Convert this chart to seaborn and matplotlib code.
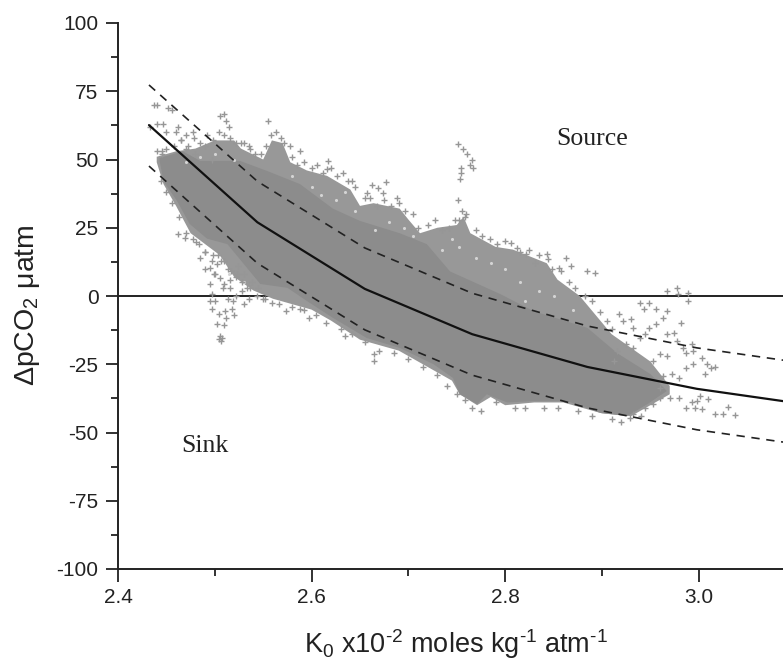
import matplotlib.pyplot as plt
import seaborn as sns

# fitted curves
fit_x = [2.432, 2.544, 2.655, 2.766, 2.885, 2.998, 3.087]
fit_mean = [62.6, 27.0, 2.6, -14.0, -26.0, -34.0, -38.5]
fit_upper = [77.3, 42.0, 17.6, 1.0, -11.0, -19.0, -23.5]
fit_lower = [47.6, 12.0, -12.4, -29.0, -41.0, -49.0, -53.5]

# dense part of the cloud, upper and lower edge
core_top_x = [2.443, 2.467, 2.485, 2.526, 2.554, 2.588, 2.622, 2.65, 2.691, 2.719, 2.743, 2.795, 2.829, 2.885, 2.916, 2.95, 2.967]
core_top_y = [50.6, 53, 49.5, 49.5, 45.8, 41, 32, 27.5, 23, 19, 9, 0.7, -5.5, -11.7, -21, -28.6, -34.8]
core_low_x = [2.443, 2.447, 2.461, 2.474, 2.492, 2.513, 2.547, 2.575, 2.595, 2.622, 2.657, 2.691, 2.726, 2.746, 2.753, 2.771, 2.781, 2.802, 2.829, 2.864, 2.898, 2.926, 2.947, 2.967]
core_low_y = [49.5, 42, 34.8, 26.4, 21, 19, 4.4, 3, -1.8, -8, -15.4, -19, -25, -30, -36, -39.6, -36, -39, -38.5, -38.5, -42.8, -44, -39.6, -34.8]

# loose part of the cloud around it
hull_top_x = [2.44, 2.46, 2.48, 2.50, 2.52, 2.527, 2.55, 2.559, 2.57, 2.578, 2.595, 2.616, 2.64, 2.65, 2.664, 2.691, 2.70, 2.712, 2.73, 2.75, 2.757, 2.764, 2.79, 2.808, 2.843, 2.854, 2.877, 2.91, 2.95, 2.97]
hull_top_y = [51, 53, 54, 57, 57, 54, 50, 57, 56, 49, 46, 44, 39, 33, 34, 32, 28, 23, 25, 26, 29, 23, 18, 17, 12, 6, 0, -14, -24, -33]
hull_low_x = [2.44, 2.447, 2.46, 2.475, 2.49, 2.505, 2.52, 2.54, 2.56, 2.6, 2.62, 2.65, 2.69, 2.72, 2.745, 2.753, 2.771, 2.785, 2.80, 2.83, 2.86, 2.90, 2.93, 2.95, 2.97]
hull_low_y = [49, 41, 33, 23, 19, 15, 7, 2, -1, -5, -9, -16, -20, -26, -31, -36, -40, -37, -40, -39, -39, -43, -44, -40, -36]

# single points outside the cloud
left_x = [2.437, 2.44, 2.452, 2.456, 2.447, 2.44, 2.433, 2.45, 2.46, 2.465, 2.47, 2.462, 2.44, 2.445, 2.477, 2.49, 2.497, 2.47, 2.48, 2.505, 2.515, 2.527, 2.535]
left_y = [70, 70, 69, 68, 63, 63, 62, 60, 60, 57, 59, 62, 53, 53, 60, 55, 50, 54, 52, 66, 62, 56, 55]
above_x = [2.509, 2.512, 2.555, 2.588, 2.578, 2.617, 2.616, 2.642, 2.662, 2.677, 2.669, 2.657, 2.674, 2.688, 2.884, 2.893, 2.863, 2.868, 2.856, 2.843, 2.844, 2.831, 2.822, 2.806, 2.812]
above_y = [66.6, 64.1, 64.1, 53.1, 55, 49.5, 46.4, 42.1, 40.7, 41.9, 39.7, 37.9, 37.9, 36, 9.2, 8.5, 14, 11, 10.4, 15.3, 13.4, 12.2, 15.3, 19.5, 17.7]
spike_x = [2.751, 2.756, 2.761, 2.766, 2.767, 2.754, 2.754, 2.753, 2.751, 2.755, 2.758, 2.752, 2.764]
spike_y = [55.7, 54, 52, 50, 47, 47, 45, 43, 35, 31, 29, 28, 48]
blob_x = [2.495, 2.502, 2.499, 2.505, 2.495, 2.509, 2.516, 2.497, 2.5, 2.495, 2.497, 2.504, 2.511, 2.518, 2.519, 2.514, 2.502, 2.51, 2.505, 2.504, 2.507, 2.506, 2.485, 2.481, 2.469, 2.462, 2.523, 2.533, 2.55, 2.559, 2.574, 2.588, 2.597, 2.664, 2.664, 2.635]
blob_y = [10.4, 11.6, 7.9, 6.7, 4.3, 4.3, 3.1, 0.6, -1.8, -1.8, -4.9, -6.7, -5.5, -4.9, -1.8, -1.2, -10.4, -10.6, -14.6, -15.9, -15.3, -16.5, 14.1, 19.6, 21.4, 22.6, 7.9, 3.1, -1.2, -2.4, -5.5, -4.9, -7.9, -21.3, -23.8, -14.6]
tail_x = [2.967, 2.977, 2.979, 2.989, 2.989, 2.939, 2.949, 2.943, 2.956, 2.967, 2.963, 2.918, 2.922, 2.93, 2.932, 2.982, 2.956, 2.949, 2.944, 2.939, 2.974, 2.967, 2.977, 2.984, 2.993, 2.994, 2.987, 3.003, 3.008, 3.013, 3.017, 3.006, 2.994, 2.987, 2.98, 2.972, 2.963, 2.967, 2.96, 2.953, 2.932, 2.925, 2.915, 2.912]
tail_y = [1.8, 3, 0.6, 1.2, -1.8, -2.4, -2.4, -4.9, -4.9, -5.5, -7.9, -6.7, -9.2, -8.5, -11.6, -9.8, -10.4, -11.6, -14, -15.3, -13.4, -14, -16.5, -18.9, -17.7, -20.1, -20.8, -22.6, -25, -26.3, -26, -28.7, -25, -26.3, -29.9, -28.7, -29.3, -22, -21.4, -23.8, -18.9, -17.7, -20.1, -23.8]
foot_x = [2.98, 2.993, 2.998, 2.987, 2.996, 3.003, 3.01, 3.001, 3.017, 3.025, 3.037, 3.03, 2.97, 2.96, 2.953, 2.944, 2.932, 2.929, 2.96]
foot_y = [-37.2, -39, -38.5, -40.9, -40.9, -41.5, -37.9, -36.6, -43.3, -43.3, -43.6, -40.5, -37.2, -37.2, -39.7, -40.9, -43.3, -44.6, -33.6]

# points along the rough edges of the cloud
fringe_top_x = [2.445, 2.45, 2.458, 2.465, 2.472, 2.478, 2.485, 2.492, 2.498, 2.504, 2.51, 2.516, 2.522, 2.53, 2.536, 2.542, 2.548, 2.553, 2.558, 2.563, 2.568, 2.572, 2.58, 2.585, 2.592, 2.6, 2.606, 2.612, 2.62, 2.626, 2.632, 2.638, 2.645, 2.655, 2.66, 2.668, 2.675, 2.682, 2.69, 2.697, 2.705, 2.71, 2.72, 2.727, 2.735, 2.742, 2.748, 2.76, 2.77, 2.776, 2.784, 2.792, 2.8, 2.815, 2.825, 2.835, 2.848, 2.858, 2.866, 2.872, 2.882, 2.89, 2.898, 2.905, 2.91]
fringe_top_y = [52, 54, 55, 57, 55, 58, 56, 59, 57, 60, 59, 58, 56, 56, 54, 52, 52, 55, 59, 60, 58, 56, 51, 48, 49, 47, 48, 45, 47, 44, 45, 42, 40, 36, 36, 33, 35, 33, 34, 31, 30, 25, 26, 28, 24, 25, 28, 30, 24, 22, 21, 19, 20, 16, 17, 15, 10, 9, 5, 3, 0, -2, -6, -9, -12]
fringe_low_x = [2.444, 2.45, 2.456, 2.463, 2.47, 2.477, 2.484, 2.49, 2.498, 2.506, 2.514, 2.522, 2.528, 2.536, 2.544, 2.552, 2.566, 2.58, 2.592, 2.605, 2.615, 2.63, 2.642, 2.655, 2.67, 2.685, 2.7, 2.715, 2.73, 2.74, 2.75, 2.758, 2.766, 2.775, 2.79, 2.81, 2.82, 2.84, 2.855, 2.875, 2.89, 2.91, 2.92, 2.94]
fringe_low_y = [42, 38, 34, 29, 23, 21, 19, 16, 15, 13, 10, 7, 5, 3, 0, -1, -3, -4, -5, -7, -10, -12, -14, -17, -20, -21, -23, -26, -29, -33, -36, -38, -41, -42, -39, -41, -41, -41, -41, -42, -44, -45, -46, -44]
inner_low_x = [2.49, 2.497, 2.503, 2.51, 2.517, 2.524, 2.53, 2.538, 2.545, 2.49, 2.5, 2.508, 2.516, 2.522, 2.528, 2.535, 2.512, 2.52, 2.53]
inner_low_y = [10, 13, 15, 13, 9, 11, 8, 5, 3, 16, 8, 3, 6, 0, 2, -1, -8, -7, -3]

# white specks inside the loose part
gap_x = [2.47, 2.485, 2.5, 2.52, 2.58, 2.6, 2.61, 2.625, 2.635, 2.645, 2.665, 2.68, 2.695, 2.705, 2.735, 2.745, 2.752, 2.77, 2.785, 2.8, 2.815, 2.82, 2.835, 2.85, 2.87, 2.515, 2.53]
gap_y = [49, 51, 52, 50, 44, 40, 37, 35, 38, 31, 24, 27, 25, 22, 17, 21, 18, 14, 12, 10, 5, -2, 2, 0, -5, 8, 5]

x_ticks = [2.4, 2.6, 2.8, 3.0]
x_tick_labels = ["2.4", "2.6", "2.8", "3.0"]
y_ticks = [-100, -75, -50, -25, 0, 25, 50, 75, 100]

sns.set_style("ticks")
plt.rcParams["font.family"] = ["Liberation Sans", "DejaVu Sans"]
plt.rcParams["axes.unicode_minus"] = False
plt.rcParams["mathtext.fontset"] = "custom"
plt.rcParams["mathtext.rm"] = "Liberation Sans"
plt.rcParams["mathtext.it"] = "Liberation Sans"
plt.rcParams["mathtext.default"] = "regular"

fig = plt.figure(figsize=(7.83, 6.62), dpi=100)
ax = fig.add_axes([118 / 783, 1 - 569 / 662, 665 / 783, 546 / 662])

ax.axhline(0, color="#222222", lw=1.4, zorder=1)

# cloud
gray = "#8c8c8c"
ax.fill(hull_top_x + hull_low_x[::-1], hull_top_y + hull_low_y[::-1], color="#989898", lw=0, zorder=2)
ax.fill(core_top_x + core_low_x[::-1], core_top_y + core_low_y[::-1], color=gray, lw=0, zorder=2)
sns.scatterplot(x=gap_x, y=gap_y, ax=ax, marker="o", s=5, color="#d4d4d4", linewidth=0, zorder=2)
point_sets = [(left_x, left_y), (above_x, above_y), (spike_x, spike_y), (blob_x, blob_y),
              (tail_x, tail_y), (foot_x, foot_y), (fringe_top_x, fringe_top_y),
              (fringe_low_x, fringe_low_y), (inner_low_x, inner_low_y)]
for xs, ys in point_sets:
    sns.scatterplot(x=xs, y=ys, ax=ax, marker="+", s=16, color="#969696", linewidth=1.0, zorder=2)

sns.lineplot(x=fit_x, y=fit_mean, ax=ax, color="#111111", lw=1.6, zorder=3)
for ys in [fit_upper, fit_lower]:
    sns.lineplot(x=fit_x, y=ys, ax=ax, color="#222222", lw=1.2, linestyle=(0, (5, 4)), zorder=3)

ax.set_xlim(2.4, 3.087)
ax.set_ylim(-100, 100)
ax.set_xticks(x_ticks)
ax.set_xticklabels(x_tick_labels)
ax.set_yticks(y_ticks)
ax.set_xticks([2.5, 2.7, 2.9], minor=True)
ax.set_yticks([-87.5, -62.5, -37.5, -12.5, 12.5, 37.5, 62.5, 87.5], minor=True)
ax.tick_params(which="major", length=9, width=1.3, labelsize=15, colors="#222222", pad=5)
ax.tick_params(which="minor", length=5, width=1.3, colors="#222222")
sns.despine(ax=ax)
for side in ["left", "bottom"]:
    ax.spines[side].set_linewidth(1.4)
    ax.spines[side].set_color("#222222")

ax.text(2.89, 57.5, "Source", family="Liberation Serif", fontsize=18.5, ha="center", va="center", color="#222222")
ax.text(2.49, -55, "Sink", family="Liberation Serif", fontsize=18.5, ha="center", va="center", color="#222222")

fig.text(28 / 783, 1 - 305 / 662, r"$\Delta$pCO$_2$ $\mu$atm", rotation=90, fontsize=20.5, ha="center", va="center", color="#222222")
fig.text(456 / 783, 1 - 644 / 662, "K$_0$ x10$^{\u2010 2}$ moles kg$^{\u2010 1}$ atm$^{\u2010 1}$", fontsize=19.5, ha="center", va="center", color="#222222")

fig.savefig("out.png", dpi=100)
